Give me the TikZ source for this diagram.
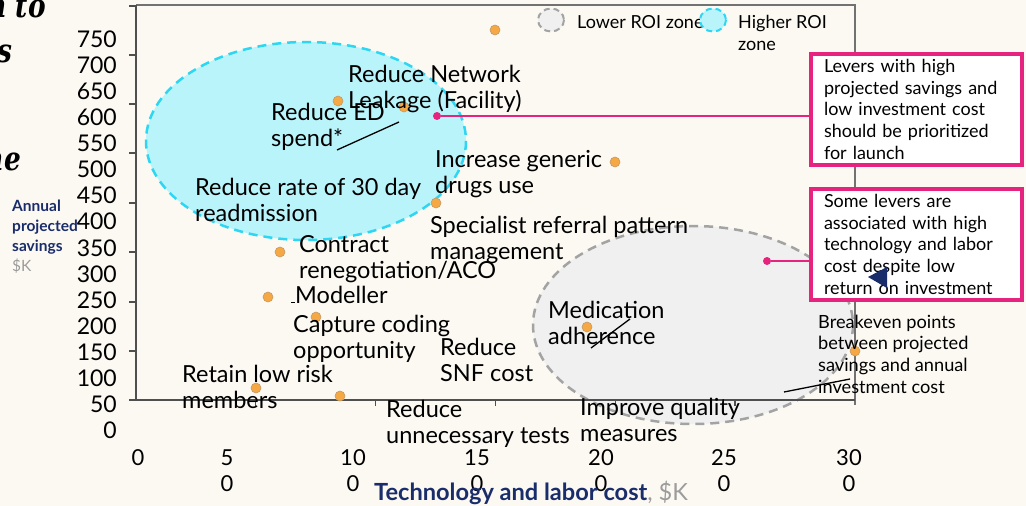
\documentclass[tikz,border=0pt]{standalone}
\usepackage{fontspec}
\setmainfont{Lato}
\newfontfamily\titlefont{DejaVu Serif}
\definecolor{bgc}{HTML}{FCF9F2}
\definecolor{dotorange}{HTML}{F5A843}
\definecolor{dotedge}{HTML}{C29A66}
\definecolor{pinkc}{HTML}{E6237E}
\definecolor{navyc}{HTML}{1A2D6B}
\definecolor{graytxt}{HTML}{9C9C9C}
\definecolor{cyanfill}{HTML}{BAF4FB}
\definecolor{cyanedge}{HTML}{2DD6F2}
\definecolor{grayfill}{HTML}{F0F0F1}
\definecolor{grayedge}{HTML}{A3A3A3}
\definecolor{axisc}{HTML}{4F4F4F}
\begin{document}
\begin{tikzpicture}[x=1pt,y=-1pt,
  lbl/.style={anchor=base west, align=left, inner sep=0, font=\fontsize{23.5}{26}\selectfont},
  small/.style={anchor=base west, align=left, inner sep=0, font=\fontsize{18.2}{21.8}\selectfont},
  ylab/.style={anchor=east, inner sep=0, font=\fontsize{23}{26}\selectfont},
  xlab/.style={anchor=center, inner sep=0, font=\fontsize{22}{26}\selectfont},
  dot/.style={circle, fill=dotorange, draw=dotedge, line width=0.6pt, minimum size=10pt, inner sep=0},
  pdot/.style={circle, fill=pinkc, inner sep=0, minimum size=8pt},
  note/.style={draw=pinkc, line width=4pt, fill=white, anchor=north west, minimum width=211pt, minimum height=108pt, text width=185pt, inner xsep=13pt, inner ysep=5pt, align=left, font=\fontsize{18}{21.8}\selectfont},
  leader/.style={black, line width=1.3pt},
  pinkline/.style={pinkc, line width=1.5pt},
  axisline/.style={axisc, line width=1.3pt},
  zone/.style={line width=2.5pt, dash pattern=on 9pt off 6pt},
  titlefrag/.style={inner sep=0, font=\titlefont\bfseries\itshape\fontsize{33}{40}\selectfont}]
\useasboundingbox (0,0) rectangle (1026,506);
\fill[bgc] (0,0) rectangle (1026,506);

% title fragments (cut off slide title)
\node[titlefrag, anchor=base east] (t1) at (46,17) {\scalebox{0.8}[1]{n to}};
\node[titlefrag, anchor=base east] (t2) at (13,62) {\scalebox{0.8}[1]{s}};
\node[titlefrag, anchor=base east] (t3) at (21,170) {\scalebox{0.8}[1]{ne}};

% zones
\draw[zone, fill=cyanfill, draw=cyanedge] (306,141) ellipse [x radius=160, y radius=99];
\draw[zone, fill=grayfill, draw=grayedge] (693,325) ellipse [x radius=160, y radius=99];

% frame and axes
\draw[axisc!80, line width=1.3pt] (136,5) -- (855,5) -- (855,405);
\draw[axisline] (136,5) -- (136,400);
\draw[axisline] (129,400) -- (855,400);
\foreach \yy in {6,55,104,153,203,252,302,351}
  \draw[axisline] (129,\yy) -- (136,\yy);
\foreach \k in {1,...,5}
  \draw[axisline] ({136+119.8*\k},400) -- ({136+119.8*\k},406);

% y labels
\foreach \v [count=\i from 0] in {750,700,650,600,550,500,450,400,350,300,250,200,150,100,50,0}
  \node[ylab] (y\v) at (117,{39+26.1*\i}) {\v};

% x labels
\node[xlab] (x0) at (138,458) {0};
\foreach \v/\xx in {5/227,10/353,15/477,20/601,25/724,30/849}{
  \node[xlab] (x\v) at (\xx,458) {\v};
  \node[xlab] (xz\v) at (\xx,484) {0};
}

% axis titles
\node[anchor=base west, align=left, inner sep=0, font=\bfseries\fontsize{15.5}{20}\selectfont, text=navyc] (ytitle) at (12,271) {Annual\\projected\\savings\\\textcolor{graytxt}{\mdseries\$K}};
\node[anchor=base west, inner sep=0, font=\bfseries\fontsize{23.6}{24}\selectfont, text=navyc] (xtitle) at (374,500) {Technology and labor cost\textcolor{graytxt}{\mdseries, \$K}};

% legend
\draw[zone, line width=2pt, dash pattern=on 6pt off 4pt, fill=grayfill, draw=grayedge] (551,20) ellipse [x radius=13, y radius=11.5];
\node[anchor=base west, inner sep=0, font=\fontsize{18}{22}\selectfont] (leglow) at (577,28) {Lower ROI zone};
\draw[zone, line width=2pt, dash pattern=on 6pt off 4pt, fill=cyanfill, draw=cyanedge] (713,20) ellipse [x radius=13, y radius=11.5];
\node[anchor=base west, align=left, inner sep=0, font=\fontsize{18}{22}\selectfont] (leghigh) at (738,50) {Higher ROI\\zone};

% data points
\node[dot] (d1) at (495,30) {};
\node[dot] (d2) at (338,101) {};
\node[dot] (d3) at (404,107) {};
\node[dot] (d4) at (436,203) {};
\node[dot] (d5) at (615,162) {};
\node[dot] (d6) at (280,252) {};
\node[dot] (d7) at (268,297) {};
\node[dot] (d8) at (316,317) {};
\node[dot] (d9) at (256,388) {};
\node[dot] (d10) at (340,396) {};
\node[dot] (d11) at (587,327) {};
\node[dot] (d12) at (855,351) {};

% labels (anchor = baseline of last line)
\node[lbl] (lnet) at (348,108) {Reduce Network\\Leakage (Facility)};
\node[lbl] (led) at (271,146) {Reduce ED\\spend*};
\node[lbl] (lgen) at (435,193) {Increase generic\\drugs use};
\node[lbl] (lread) at (195,221) {Reduce rate of 30 day\\readmission};
\node[lbl] (lspec) at (430,259) {Specialist referral pattern\\management};
\node[lbl] (lcon) at (299,278) {Contract\\renegotiation/ACO};
\node[lbl] (lmod) at (291,303) {\rule{4pt}{1.3pt}Modeller};
\node[lbl] (lcap) at (293,358) {Capture coding\\opportunity};
\node[lbl] (lsnf) at (440,381) {Reduce\\SNF cost};
\node[lbl] (lret) at (182,408) {Retain low risk\\members};
\node[lbl] (lunn) at (386,443) {Reduce\\unnecessary tests};
\node[lbl] (lmed) at (548,344) {Medication\\adherence};
\node[lbl] (limp) at (580,441) {Improve quality\\measures};
\node[small] (lbe) at (818,393.4) {Breakeven points\\between projected\\savings and annual\\investment cost};

% leader lines
\coordinate (e1) at (399,122); \coordinate (e2) at (337,150);
\coordinate (m1) at (630,319); \coordinate (m2) at (591,348);
\coordinate (b1) at (850,379); \coordinate (b2) at (784,392);
\draw[leader] (e1) -- (e2);
\draw[leader] (m1) -- (m2);
\draw[leader] (b1) -- (b2);

% callouts
\node[note] (box1) at (809,52) {Levers with high\\projected savings and\\low investment cost\\should be prioritized\\for launch};
\node[note] (box2) at (809,187) {Some levers are\\associated with high\\technology and labor\\cost despite low\\return on investment};
\node[pdot] (p1) at (437,116) {};
\node[pdot] (p2) at (767,261) {};
\draw[pinkline] (p1) -- (p1 -| box1.west);
\draw[pinkline] (p2) -- (p2 -| box2.west);

% marker triangle
\coordinate (tri) at (868,277);
\fill[navyc] (tri) -- (887,267) -- (887,288) -- cycle;
\end{tikzpicture}
\end{document}
